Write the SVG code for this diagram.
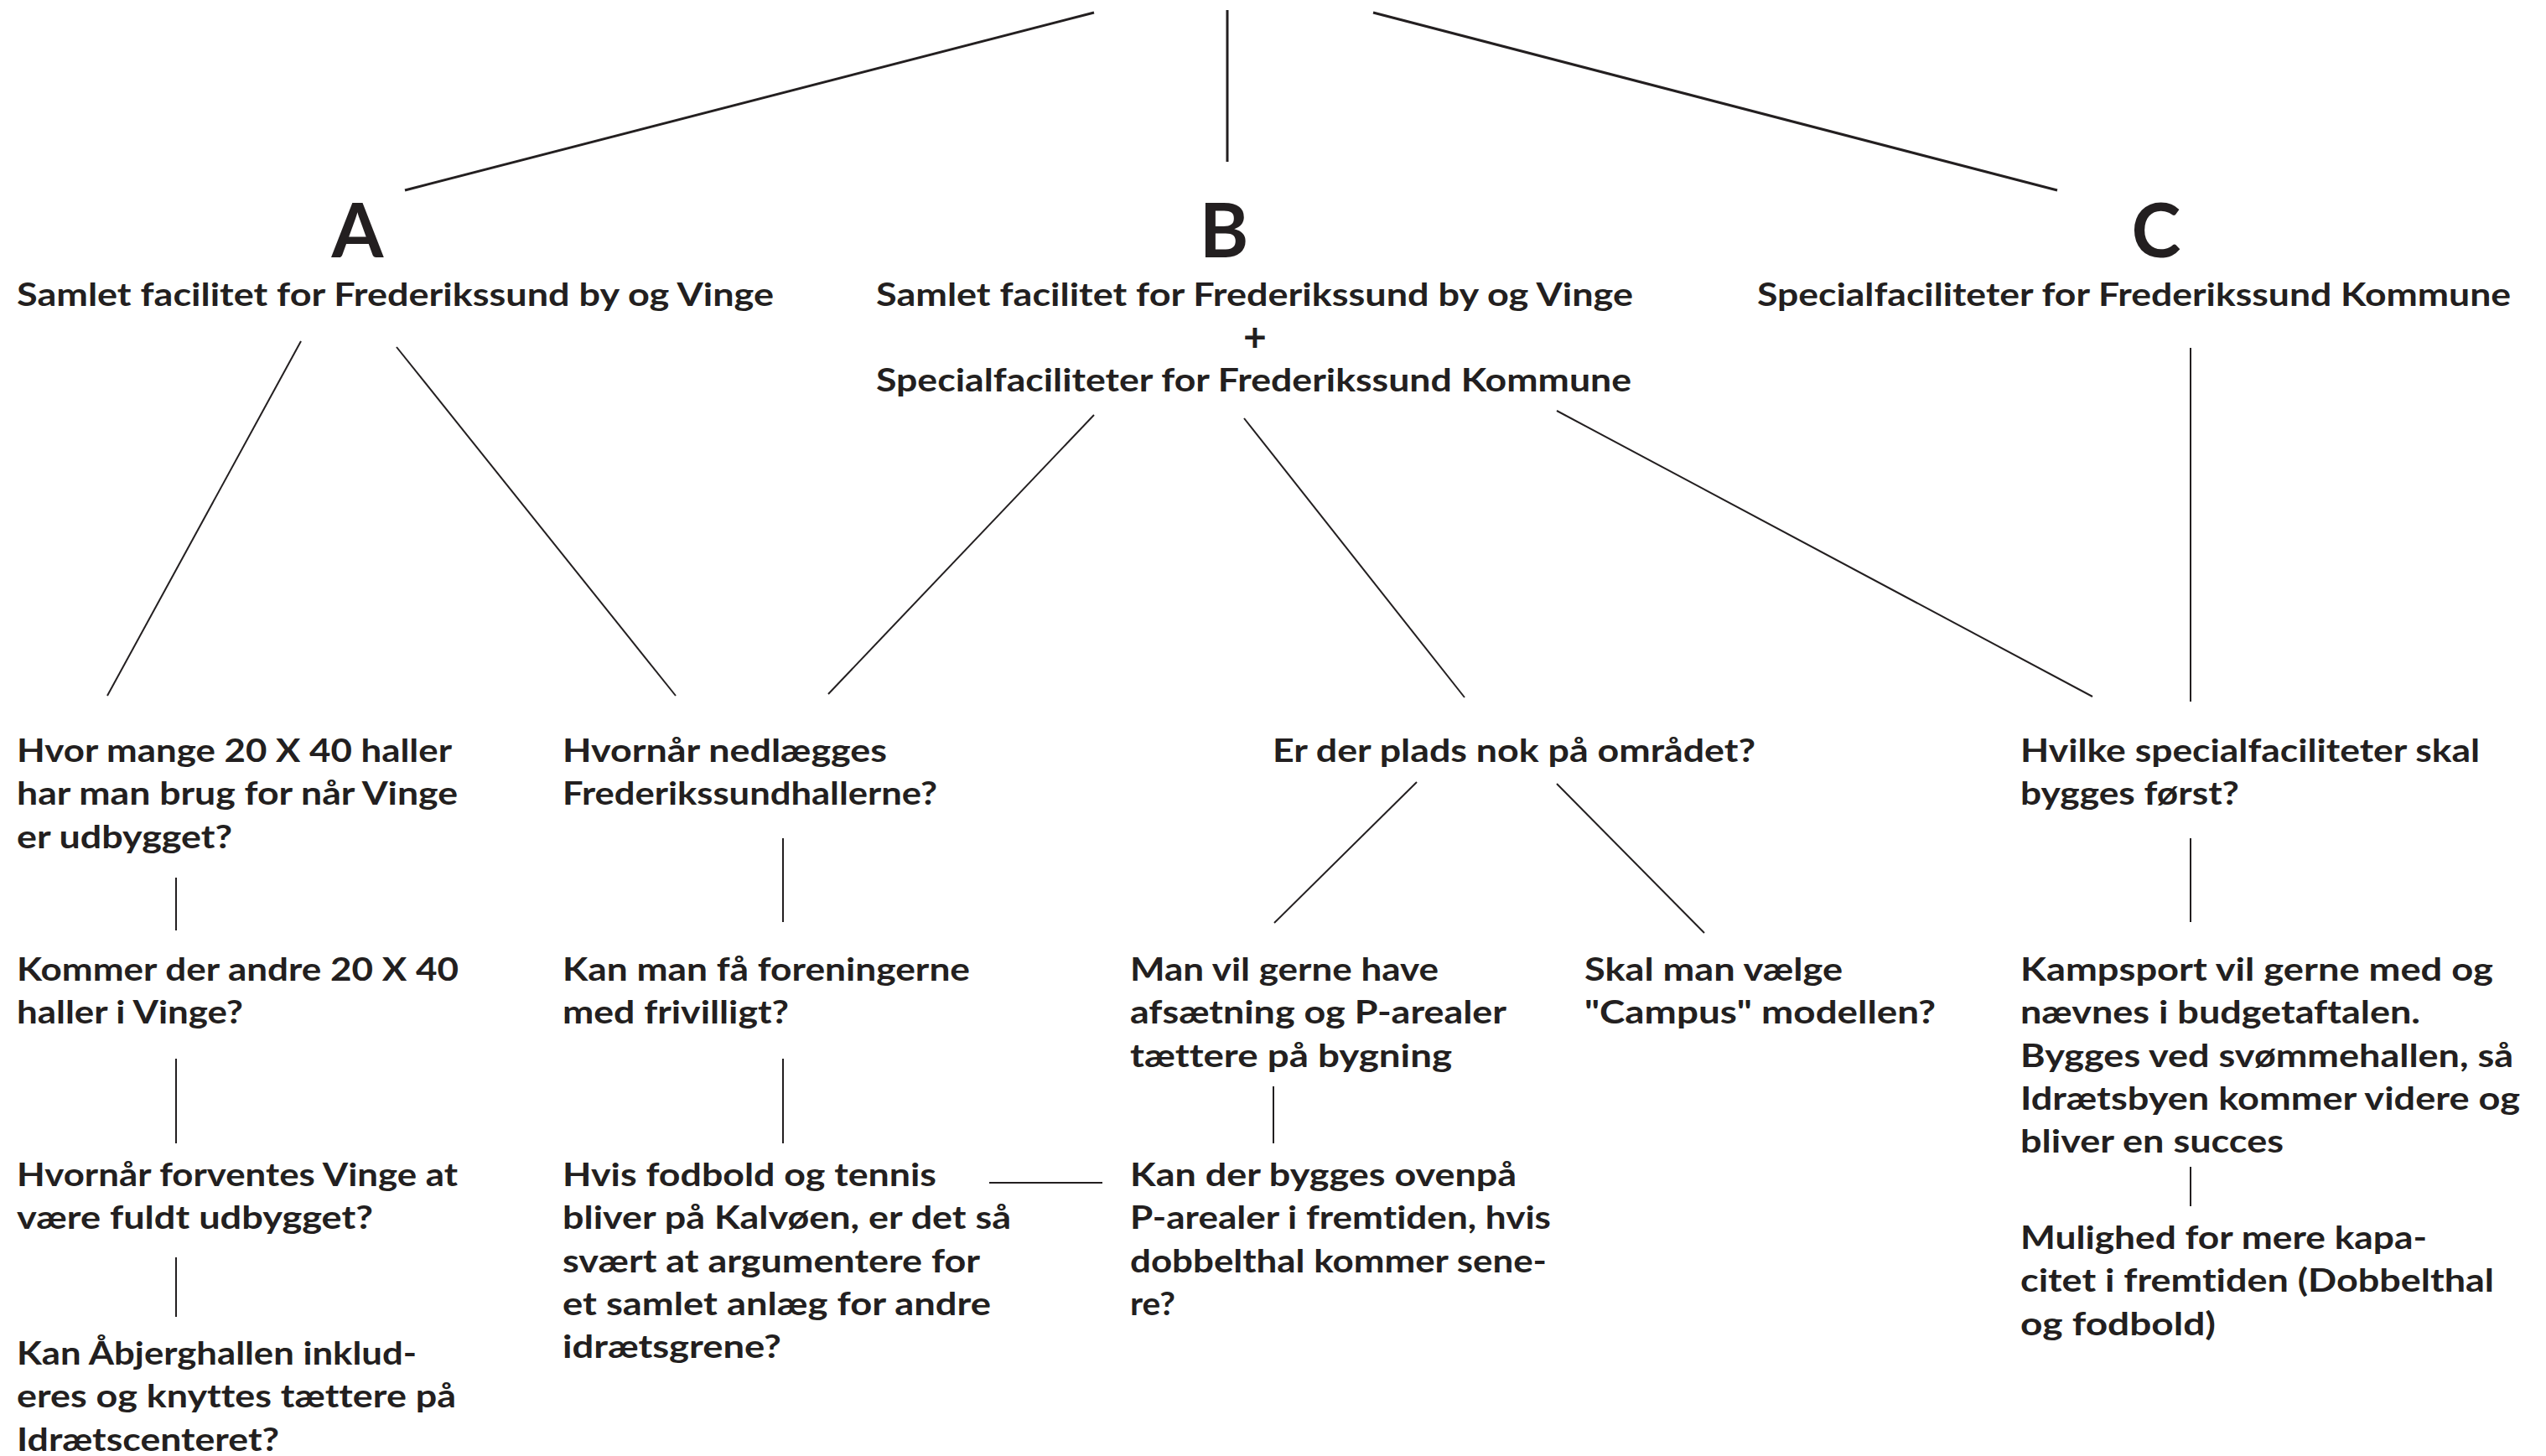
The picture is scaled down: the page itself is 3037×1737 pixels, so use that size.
<svg xmlns="http://www.w3.org/2000/svg" width="3037" height="1737" viewBox="0 0 3037 1737">
<style>
text{font-family:Lato,"Open Sans","Liberation Sans",sans-serif;font-weight:700;fill:#231f20;font-variant-ligatures:none}
.t{font-size:38.7px}
.big{font-size:89px;text-anchor:middle}
.c line{stroke:#231f20;stroke-width:2;fill:none}
.c line.top{stroke-width:3}
</style>
<rect width="3037" height="1737" fill="#fff"/>
<g class="c" id="connectors">
<line class="top" x1="1305" y1="15" x2="483" y2="227"/>
<line class="top" x1="1464" y1="12" x2="1464" y2="193"/>
<line class="top" x1="1638" y1="15" x2="2454" y2="227"/>
<line x1="359" y1="407" x2="128" y2="830"/>
<line x1="473" y1="414" x2="806" y2="830"/>
<line x1="1305" y1="495" x2="988" y2="828"/>
<line x1="1484" y1="499" x2="1747" y2="832"/>
<line x1="1857" y1="490" x2="2496" y2="831"/>
<line x1="2613" y1="415" x2="2613" y2="837"/>
<line x1="210" y1="1047" x2="210" y2="1110"/>
<line x1="934" y1="1000" x2="934" y2="1100"/>
<line x1="1690" y1="933" x2="1520" y2="1101"/>
<line x1="1857" y1="935" x2="2033" y2="1113"/>
<line x1="2613" y1="1000" x2="2613" y2="1100"/>
<line x1="210" y1="1263" x2="210" y2="1364"/>
<line x1="934" y1="1263" x2="934" y2="1364"/>
<line x1="1519" y1="1296" x2="1519" y2="1364"/>
<line x1="2613" y1="1392" x2="2613" y2="1439"/>
<line x1="1180" y1="1411" x2="1315" y2="1411"/>
<line x1="210" y1="1500" x2="210" y2="1571"/>
</g>
<g id="nodeA">
<text class="big" x="426.5" y="307">A</text>
<text class="t" x="20" y="365" textLength="903" lengthAdjust="spacingAndGlyphs">Samlet facilitet for Frederikssund by og Vinge</text>
</g>
<g id="nodeB">
<text class="big" x="1460" y="307">B</text>
<text class="t" x="1045" y="365" textLength="903" lengthAdjust="spacingAndGlyphs">Samlet facilitet for Frederikssund by og Vinge</text>
<text x="1497" y="419" text-anchor="middle" font-size="48">+</text>
<text class="t" x="1045" y="467" textLength="901" lengthAdjust="spacingAndGlyphs">Specialfaciliteter for Frederikssund Kommune</text>
</g>
<g id="nodeC">
<text class="big" x="2572" y="307">C</text>
<text class="t" x="2096" y="365" textLength="899" lengthAdjust="spacingAndGlyphs">Specialfaciliteter for Frederikssund Kommune</text>
</g>
<g id="q-a1">
<text class="t" x="20" y="909" textLength="519" lengthAdjust="spacingAndGlyphs">Hvor mange 20 X 40 haller</text>
<text class="t" x="20" y="960.3" textLength="526" lengthAdjust="spacingAndGlyphs">har man brug for når Vinge</text>
<text class="t" x="20" y="1011.6" textLength="257" lengthAdjust="spacingAndGlyphs">er udbygget?</text>
</g>
<g id="q-a2">
<text class="t" x="20" y="1170" textLength="527" lengthAdjust="spacingAndGlyphs">Kommer der andre 20 X 40</text>
<text class="t" x="20" y="1221.3" textLength="270" lengthAdjust="spacingAndGlyphs">haller i Vinge?</text>
</g>
<g id="q-a3">
<text class="t" x="20" y="1415" textLength="526" lengthAdjust="spacingAndGlyphs">Hvornår forventes Vinge at</text>
<text class="t" x="20" y="1466.3" textLength="425" lengthAdjust="spacingAndGlyphs">være fuldt udbygget?</text>
</g>
<g id="q-a4">
<text class="t" x="20" y="1628" textLength="477" lengthAdjust="spacingAndGlyphs">Kan Åbjerghallen inklud-</text>
<text class="t" x="20" y="1679.3" textLength="524" lengthAdjust="spacingAndGlyphs">eres og knyttes tættere på</text>
<text class="t" x="20" y="1730.6" textLength="313" lengthAdjust="spacingAndGlyphs">Idrætscenteret?</text>
</g>
<g id="q-ab1">
<text class="t" x="671" y="909" textLength="387" lengthAdjust="spacingAndGlyphs">Hvornår nedlægges</text>
<text class="t" x="671" y="960.3" textLength="447" lengthAdjust="spacingAndGlyphs">Frederikssundhallerne?</text>
</g>
<g id="q-ab2">
<text class="t" x="671" y="1170" textLength="486" lengthAdjust="spacingAndGlyphs">Kan man få foreningerne</text>
<text class="t" x="671" y="1221.3" textLength="270" lengthAdjust="spacingAndGlyphs">med frivilligt?</text>
</g>
<g id="q-ab3">
<text class="t" x="671" y="1415" textLength="446" lengthAdjust="spacingAndGlyphs">Hvis fodbold og tennis</text>
<text class="t" x="671" y="1466.3" textLength="535" lengthAdjust="spacingAndGlyphs">bliver på Kalvøen, er det så</text>
<text class="t" x="671" y="1517.6" textLength="498" lengthAdjust="spacingAndGlyphs">svært at argumentere for</text>
<text class="t" x="671" y="1568.9" textLength="511" lengthAdjust="spacingAndGlyphs">et samlet anlæg for andre</text>
<text class="t" x="671" y="1620.2" textLength="261" lengthAdjust="spacingAndGlyphs">idrætsgrene?</text>
</g>
<g id="q-b1">
<text class="t" x="1518" y="909" textLength="576" lengthAdjust="spacingAndGlyphs">Er der plads nok på området?</text>
</g>
<g id="q-b2">
<text class="t" x="1348" y="1170" textLength="368" lengthAdjust="spacingAndGlyphs">Man vil gerne have</text>
<text class="t" x="1348" y="1221.3" textLength="449" lengthAdjust="spacingAndGlyphs">afsætning og P-arealer</text>
<text class="t" x="1348" y="1272.6" textLength="384" lengthAdjust="spacingAndGlyphs">tættere på bygning</text>
</g>
<g id="q-b3">
<text class="t" x="1348" y="1415" textLength="461" lengthAdjust="spacingAndGlyphs">Kan der bygges ovenpå</text>
<text class="t" x="1348" y="1466.3" textLength="502" lengthAdjust="spacingAndGlyphs">P-arealer i fremtiden, hvis</text>
<text class="t" x="1348" y="1517.6" textLength="497" lengthAdjust="spacingAndGlyphs">dobbelthal kommer sene-</text>
<text class="t" x="1348" y="1568.9" textLength="54" lengthAdjust="spacingAndGlyphs">re?</text>
</g>
<g id="q-b4">
<text class="t" x="1890" y="1170" textLength="308" lengthAdjust="spacingAndGlyphs">Skal man vælge</text>
<text class="t" x="1890" y="1221.3" textLength="419" lengthAdjust="spacingAndGlyphs">"Campus" modellen?</text>
</g>
<g id="q-c1">
<text class="t" x="2410" y="909" textLength="548" lengthAdjust="spacingAndGlyphs">Hvilke specialfaciliteter skal</text>
<text class="t" x="2410" y="960.3" textLength="261" lengthAdjust="spacingAndGlyphs">bygges først?</text>
</g>
<g id="q-c2">
<text class="t" x="2410" y="1170" textLength="564" lengthAdjust="spacingAndGlyphs">Kampsport vil gerne med og</text>
<text class="t" x="2410" y="1221.3" textLength="477" lengthAdjust="spacingAndGlyphs">nævnes i budgetaftalen.</text>
<text class="t" x="2410" y="1272.6" textLength="588" lengthAdjust="spacingAndGlyphs">Bygges ved svømmehallen, så</text>
<text class="t" x="2410" y="1323.9" textLength="596" lengthAdjust="spacingAndGlyphs">Idrætsbyen kommer videre og</text>
<text class="t" x="2410" y="1375.2" textLength="314" lengthAdjust="spacingAndGlyphs">bliver en succes</text>
</g>
<g id="q-c3">
<text class="t" x="2410" y="1490" textLength="485" lengthAdjust="spacingAndGlyphs">Mulighed for mere kapa-</text>
<text class="t" x="2410" y="1541.3" textLength="565" lengthAdjust="spacingAndGlyphs">citet i fremtiden (Dobbelthal</text>
<text class="t" x="2410" y="1592.6" textLength="233" lengthAdjust="spacingAndGlyphs">og fodbold)</text>
</g>
</svg>
